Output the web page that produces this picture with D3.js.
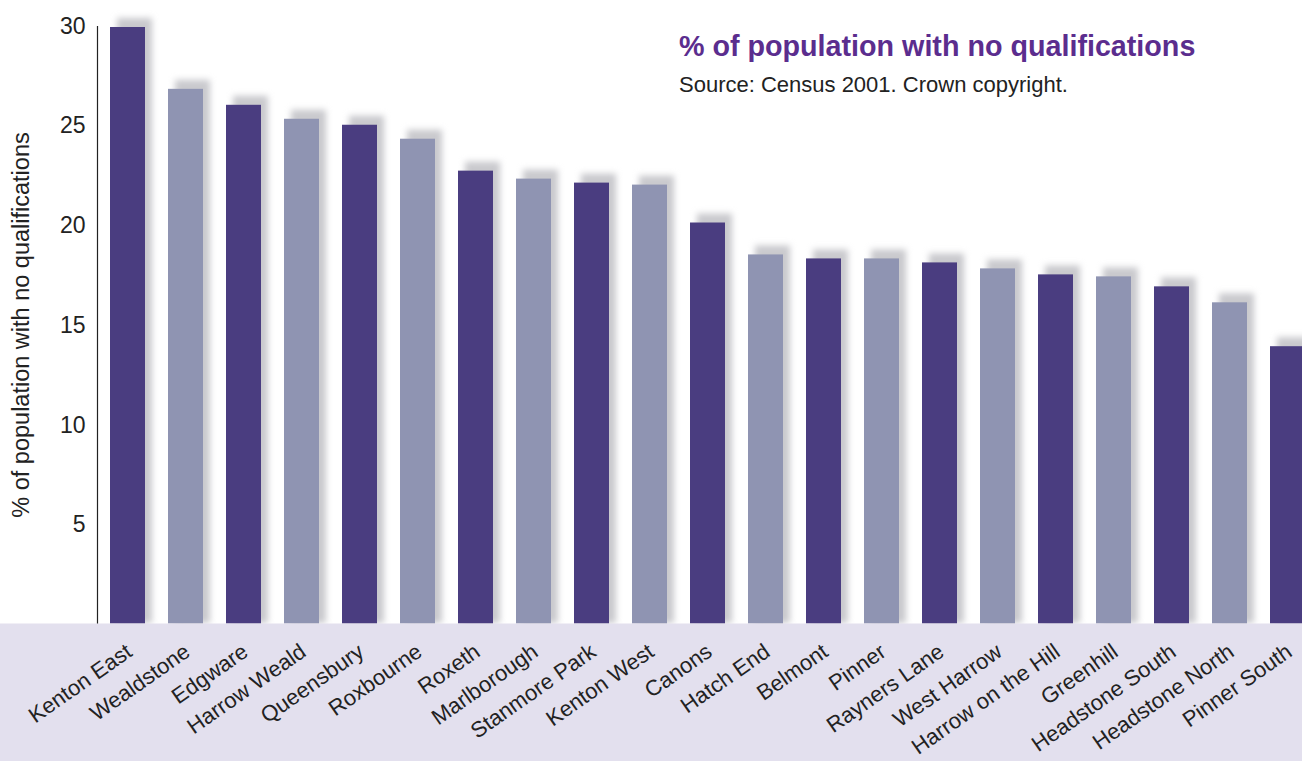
<!DOCTYPE html>
<html><head><meta charset="utf-8">
<script src="https://cdn.jsdelivr.net/npm/d3@7"></script>
<style>body{margin:0;background:#fff}svg{display:block;font-family:"Liberation Sans",Arial,sans-serif}</style>
</head><body><svg id="c" width="1302" height="761"></svg>
<script>
const wards = ["Kenton East","Wealdstone","Edgware","Harrow Weald","Queensbury","Roxbourne","Roxeth","Marlborough","Stanmore Park","Kenton West","Canons","Hatch End","Belmont","Pinner","Rayners Lane","West Harrow","Harrow on the Hill","Greenhill","Headstone South","Headstone North","Pinner South"];
const values = [29.9,26.8,26.0,25.3,25.0,24.3,22.7,22.3,22.1,22.0,20.1,18.5,18.3,18.3,18.1,17.8,17.5,17.4,16.9,16.1,13.9];
const yTicks = [5,10,15,20,25,30];
const title = "% of population with no qualifications";
const source = "Source: Census 2001. Crown copyright.";
const yTitle = "% of population with no qualifications";

const svg = d3.select("#c");
const W = 1302, H = 761;
const step = 58, x0 = 110, bw = 35;
const x = d3.scalePoint().domain(wards).range([x0, x0 + step*(wards.length-1)]);
const y = d3.scaleLinear().domain([0,30]).range([623.5, 25]);

const defs = svg.append("defs");
const f = defs.append("filter").attr("id","blur").attr("x","-50%").attr("y","-50%").attr("width","200%").attr("height","200%");
f.append("feGaussianBlur").attr("stdDeviation",3.2);

const g = svg.append("g");
g.selectAll("rect.sh").data(values).join("rect").attr("class","sh")
  .attr("x",(d,i)=>x(wards[i])+7).attr("y",d=>y(d)-9)
  .attr("width",bw).attr("height",d=>623-(y(d)-9))
  .attr("fill","#c9c9cd").attr("filter","url(#blur)");
g.selectAll("rect.bar").data(values).join("rect").attr("class","bar")
  .attr("x",(d,i)=>x(wards[i])).attr("y",d=>y(d))
  .attr("width",bw).attr("height",d=>623.5-y(d))
  .attr("fill",(d,i)=>i%2===0?"#4a3d80":"#8f94b2");

svg.append("rect").attr("x",0).attr("y",623.5).attr("width",W).attr("height",H-623.5).attr("fill","#e3e0ee");

const ax = svg.append("g").attr("transform","translate(97.5,0)")
  .call(d3.axisLeft(y).tickValues(yTicks).tickSize(0).tickPadding(12));
ax.select(".domain").attr("d","M0,26V623.5").attr("stroke","#222").attr("stroke-width",1.2);
ax.selectAll("text").attr("font-size",23).attr("fill","#222").attr("font-family","Liberation Sans, Arial, sans-serif").attr("dy","0.35em");

svg.append("g").selectAll("text").data(wards).join("text")
  .attr("transform",(d)=>`translate(${x(d)+bw/2+6},655) rotate(-35)`)
  .attr("text-anchor","end").attr("font-size",22).attr("fill","#222").text(d=>d);

svg.append("text").attr("transform","translate(29,325) rotate(-90)")
  .attr("text-anchor","middle").attr("font-size",23.5).attr("fill","#222").text(yTitle);

svg.append("text").attr("x",679).attr("y",56).attr("font-size",28.7).attr("font-weight","bold").attr("fill","#5b2d8e").text(title);
svg.append("text").attr("x",679).attr("y",92).attr("font-size",22).attr("fill","#222").text(source);
</script></body></html>
